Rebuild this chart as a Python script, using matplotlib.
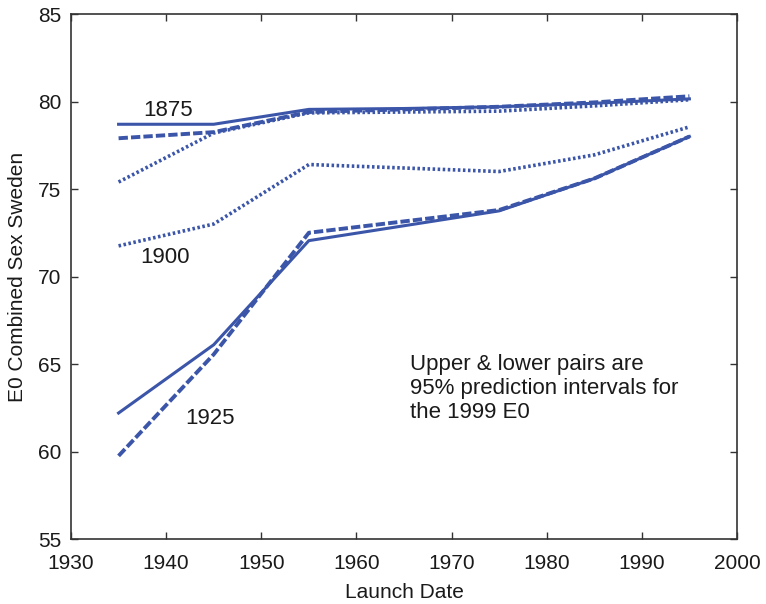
import numpy as np
import matplotlib.pyplot as plt

plt.rcParams['font.family'] = ['Liberation Sans', 'DejaVu Sans']

years = [1935, 1945, 1955, 1965, 1975, 1985, 1995]

# upper / lower 95% bounds for each cohort style
solidUpper = [78.7, 78.7, 79.55, 79.6, 79.7, 79.9, 80.15]
solidLower = [62.2, 66.1, 72.05, 72.9, 73.75, 75.6, 78.0]
dashUpper = [77.9, 78.25, 79.4, 79.55, 79.7, 79.95, 80.3]
dashLower = [59.75, 65.55, 72.5, 73.15, 73.8, 75.6, 78.0]
dotUpper = [75.4, 78.2, 79.35, 79.4, 79.45, 79.75, 80.1]
dotLower = [71.75, 73.0, 76.4, 76.2, 76.0, 76.95, 78.55]

cohortLabels = ['1875', '1900', '1925']
cohortX = [1937.6, 1937.3, 1942.0]
cohortY = [79.5, 71.1, 61.9]

note = 'Upper & lower pairs are\n95% prediction intervals for\nthe 1999 E0'

col = '#3b55a9'
lw = 2.2

fig = plt.figure(figsize=(7.66, 6.04), dpi=100)
ax = fig.add_axes([0.0927, 0.1076, 0.8694, 0.8692])

ax.plot(years, solidUpper, color=col, lw=lw, ls='-')
ax.plot(years, solidLower, color=col, lw=lw, ls='-')
ax.plot(years, dashUpper, color=col, lw=lw + 0.6, ls=(0, (2.4, 0.8)))
ax.plot(years, dashLower, color=col, lw=lw + 0.6, ls=(0, (2.4, 0.8)))
ax.plot(years, dotUpper, color=col, lw=lw + 0.4, ls=(0, (0.7, 0.7)))
ax.plot(years, dotLower, color=col, lw=lw + 0.4, ls=(0, (0.7, 0.7)))

for lab, x, y in zip(cohortLabels, cohortX, cohortY):
    ax.text(x, y, lab, fontsize=16, color='#1a1a1a', ha='left', va='center')

ax.text(1965.6, 65.6, note, fontsize=16, color='#1a1a1a', ha='left', va='top',
        linespacing=1.2)

ax.set_xlim(1930, 2000)
ax.set_ylim(55, 85)
ax.set_xticks(np.arange(1930, 2001, 10))
ax.set_yticks(np.arange(55, 86, 5))
ax.tick_params(direction='in', length=5, width=1, top=True, right=True,
               labelsize=15, colors='#333333', labelcolor='#1a1a1a')
ax.tick_params(axis='x', pad=11)
ax.tick_params(axis='y', pad=7)
for s in ax.spines.values():
    s.set_color('#333333')
    s.set_linewidth(1.2)

ax.set_xlabel('Launch Date', fontsize=15, color='#1a1a1a', labelpad=7)
ax.set_ylabel('E0 Combined Sex Sweden', fontsize=15, color='#1a1a1a', labelpad=8)

plt.savefig('out.png', dpi=100)
